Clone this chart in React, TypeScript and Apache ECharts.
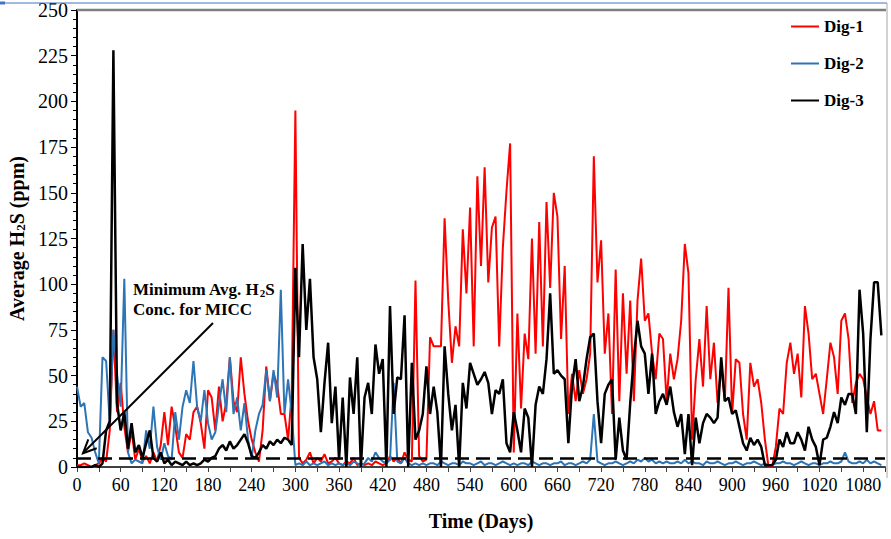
import React, { useEffect, useRef } from 'react';
import * as echarts from 'echarts';

// Sampling step of the series (days)
const STEP = 5;

// Dig-1 (red), one value every 5 days from day 0
const DIG1 = [
  1, 1, 2, 1, 0, 1, 2, 5, 3, 20, 75, 30,
  46, 22, 8, 20, 4, 10, 3, 6, 2, 8, 3, 12,
  30, 12, 33, 22, 8, 5, 18, 15, 30, 33, 24, 10,
  42, 38, 20, 44, 25, 35, 60, 36, 30, 60, 40, 25,
  15, 8, 3, 20, 55, 36, 51, 45, 29, 29, 15, 40,
  195, 5, 2, 4, 8, 2, 5, 3, 7, 2, 3, 5,
  2, 1, 3, 2, 5, 1, 2, 1, 2, 1, 3, 2,
  1, 2, 6, 3, 5, 2, 8, 4, 3, 102, 6, 3,
  4, 71, 66, 66, 66, 136, 91, 57, 77, 66, 130, 95,
  142, 66, 159, 110, 164, 101, 131, 137, 66, 120, 151, 177,
  8, 84, 32, 73, 59, 125, 62, 134, 66, 145, 98, 150,
  137, 70, 110, 29, 51, 36, 53, 40, 48, 62, 170, 101,
  124, 62, 84, 29, 108, 36, 95, 51, 91, 36, 91, 114,
  80, 84, 62, 48, 73, 70, 36, 62, 48, 59, 80, 122,
  106, 15, 48, 70, 44, 88, 48, 68, 35, 55, 36, 98,
  29, 59, 57, 29, 15, 57, 44, 48, 35, 15, 0, 0,
  11, 32, 29, 57, 68, 51, 62, 38, 88, 73, 48, 51,
  40, 29, 48, 68, 60, 40, 80, 84, 70, 35, 46, 51,
  48, 38, 29, 36, 20, 20,
];

// Dig-2 (blue)
const DIG2 = [
  44, 33, 35, 19, 16, 8, 2, 60, 58, 24, 75, 51,
  33, 103, 8, 2, 4, 3, 2, 20, 10, 33, 11, 4,
  13, 6, 4, 30, 15, 33, 42, 35, 58, 33, 25, 42,
  24, 15, 19, 34, 48, 30, 60, 29, 38, 20, 35, 15,
  5, 20, 29, 34, 53, 36, 53, 38, 97, 29, 48, 29,
  1, 2, 1, 3, 1, 2, 1, 2, 3, 1, 2, 1,
  2, 1, 2, 1, 3, 2, 1, 2, 5, 3, 8, 5,
  3, 2, 4, 46, 3, 2, 5, 2, 1, 2, 1, 2,
  1, 2, 2, 1, 3, 2, 1, 2, 2, 1, 3, 2,
  2, 1, 2, 3, 1, 2, 2, 1, 2, 3, 2, 1,
  2, 1, 2, 2, 1, 3, 2, 1, 2, 2, 1, 2,
  2, 3, 1, 2, 2, 1, 2, 3, 2, 4, 29, 3,
  2, 1, 2, 2, 3, 2, 1, 2, 3, 2, 4, 3,
  5, 3, 4, 2, 3, 2, 3, 2, 2, 3, 2, 4,
  2, 3, 2, 2, 1, 3, 2, 2, 3, 2, 1, 2,
  2, 3, 2, 1, 2, 2, 3, 2, 1, 2, 1, 1,
  2, 2, 3, 2, 2, 1, 2, 3, 2, 1, 2, 2,
  1, 2, 2, 3, 2, 2, 3, 8, 3, 2, 2, 3,
  2, 4, 2, 3, 2, 1,
];

// Dig-3 (black)
const DIG3 = [
  0, 0, 0, 0, 0, 1, 0, 2, 20, 25, 228, 35,
  20, 30, 10, 24, 8, 12, 5, 13, 20, 5, 3, 8,
  2, 4, 1, 3, 2, 1, 3, 1, 2, 1, 2, 4,
  3, 5, 6, 10, 12, 9, 14, 10, 12, 15, 18, 13,
  6, 5, 8, 12, 10, 14, 12, 15, 13, 16, 15, 12,
  109, 60, 122, 75, 103, 60, 48, 19, 46, 68, 24, 44,
  4, 38, 0, 49, 29, 60, 0, 38, 46, 29, 67, 51,
  59, 0, 88, 29, 49, 48, 83, 0, 57, 15, 20, 29,
  55, 29, 44, 30, 0, 66, 40, 20, 34, 0, 46, 32,
  57, 51, 45, 48, 52, 46, 29, 42, 40, 48, 13, 8,
  30, 20, 8, 32, 27, 0, 34, 44, 40, 59, 95, 51,
  53, 50, 48, 13, 44, 59, 36, 44, 59, 71, 73, 36,
  13, 40, 45, 48, 4, 27, 9, 4, 35, 60, 80, 66,
  62, 40, 62, 29, 36, 40, 34, 44, 30, 22, 29, 7,
  29, 1, 27, 13, 24, 29, 27, 24, 27, 60, 36, 38,
  29, 31, 22, 13, 9, 16, 12, 15, 11, 1, 1, 1,
  4, 15, 11, 19, 13, 13, 19, 15, 9, 22, 15, 11,
  1, 15, 16, 22, 30, 24, 38, 34, 40, 40, 29, 97,
  73, 19, 70, 101, 101, 72,
];

const SERIES_NAMES = ['Dig-1', 'Dig-2', 'Dig-3'];
const MICC_LEVEL = 5; // minimum avg. H2S concentration for MICC (ppm)
const X_MAX = 1110;
const Y_MAX = 250;

const FONT = '"Liberation Serif", "Times New Roman", serif';

export default function App() {
  const ref = useRef<HTMLDivElement>(null);

  useEffect(() => {
    if (!ref.current) return;
    const chart = echarts.init(ref.current, null, { renderer: 'svg' });
    const toPairs = (vals: number[]) => vals.map((v, i) => [i * STEP, v]);

    chart.setOption({
      animation: false,
      backgroundColor: '#ffffff',
      grid: { left: 77, right: 6, top: 10, bottom: 72, containLabel: false, outerBoundsMode: 'none' },
      legend: {
        orient: 'vertical',
        left: 786,
        top: 13,
        itemWidth: 28,
        itemHeight: 2,
        itemGap: 20,
        icon: 'rect',
        data: SERIES_NAMES,
        textStyle: {
          fontFamily: FONT,
          fontWeight: 'bold',
          fontSize: 17,
          color: '#000',
          lineHeight: 15,
        },
      },
      xAxis: {
        type: 'value',
        min: 0,
        max: X_MAX,
        interval: 30,
        name: 'Time (Days)',
        nameLocation: 'middle',
        nameGap: 44,
        nameTextStyle: { fontFamily: FONT, fontWeight: 'bold', fontSize: 20, color: '#000' },
        axisLine: { onZero: false, lineStyle: { color: '#404040', width: 2 } },
        axisTick: { length: 5, lineStyle: { color: '#404040', width: 1 } },
        axisLabel: {
          formatter: (v: number) => (v % 60 === 0 && v <= 1080 ? String(v) : ''),
          fontFamily: FONT,
          fontSize: 18,
          color: '#000',
          margin: 9,
        },
        splitLine: { show: false },
      },
      yAxis: {
        type: 'value',
        min: 0,
        max: Y_MAX,
        interval: 25,
        name: '{b|Average H}{s|2}{b|S (ppm)}',
        nameLocation: 'middle',
        nameRotate: 90,
        nameGap: 40,
        nameTextStyle: {
          rich: {
            b: { fontFamily: FONT, fontWeight: 'bold', fontSize: 20, color: '#000', lineHeight: 22, verticalAlign: 'bottom' },
            s: { fontFamily: FONT, fontWeight: 'bold', fontSize: 13, color: '#000', lineHeight: 16, verticalAlign: 'bottom' },
          },
        },
        axisLine: { show: true, lineStyle: { color: '#000', width: 2 } },
        axisTick: { length: 6, lineStyle: { color: '#000', width: 1 } },
        minorTick: { show: true, splitNumber: 5, length: 4, lineStyle: { color: '#000', width: 1 } },
        axisLabel: { fontFamily: FONT, fontSize: 20, color: '#000', margin: 9 },
        splitLine: { show: false },
      },
      series: [
        {
          name: SERIES_NAMES[0],
          type: 'line',
          data: toPairs(DIG1),
          showSymbol: false,
          symbol: 'none',
          lineStyle: { color: '#FF0000', width: 2 },
          itemStyle: { color: '#FF0000' },
        },
        {
          name: SERIES_NAMES[1],
          type: 'line',
          data: toPairs(DIG2),
          showSymbol: false,
          symbol: 'none',
          lineStyle: { color: '#2E75B6', width: 2 },
          itemStyle: { color: '#2E75B6' },
        },
        {
          name: SERIES_NAMES[2],
          type: 'line',
          data: toPairs(DIG3),
          showSymbol: false,
          symbol: 'none',
          lineStyle: { color: '#000000', width: 2.5 },
          itemStyle: { color: '#000000' },
          markLine: {
            silent: true,
            symbol: ['none', 'none'],
            label: { show: false },
            lineStyle: { color: '#000', type: [14, 7], width: 2.5 },
            data: [{ yAxis: MICC_LEVEL }],
          },
        },
      ],
      graphic: [
        { type: 'line', silent: true, z: 100, shape: { x1: 0, y1: 3, x2: 887, y2: 3 }, style: { stroke: '#4472C4', lineWidth: 1 } },
        { type: 'line', silent: true, z: 100, shape: { x1: 0, y1: 3, x2: 5, y2: 3 }, style: { stroke: '#4472C4', lineWidth: 3 } },
        { type: 'line', silent: true, z: 100, shape: { x1: 77, y1: 10, x2: 886, y2: 10 }, style: { stroke: '#7f7f7f', lineWidth: 2.5 } },
        { type: 'line', silent: true, z: 100, shape: { x1: 887, y1: 3, x2: 887, y2: 478 }, style: { stroke: '#a6a6a6', lineWidth: 1 } },
        {
          type: 'text',
          z: 100,
          x: 133,
          y: 278,
          style: {
            text: '{n|Minimum Avg. H}{s|2}{n|S}\n{n|Conc. for MICC}',
            fill: '#000',
            rich: {
              n: { fontFamily: FONT, fontWeight: 'bold', fontSize: 17, fill: '#000', lineHeight: 20, verticalAlign: 'bottom' },
              s: { fontFamily: FONT, fontWeight: 'bold', fontSize: 11, fill: '#000', lineHeight: 14, verticalAlign: 'bottom' },
            },
          },
        },
        { type: 'line', silent: true, z: 100, shape: { x1: 213, y1: 323, x2: 83, y2: 453 }, style: { stroke: '#000', lineWidth: 2 } },
        {
          type: 'polyline',
          silent: true,
          z: 100,
          shape: { points: [[96.7, 448.3], [83, 453.3], [88.3, 439.3]] },
          style: { stroke: '#000', lineWidth: 2, fill: 'none' },
        },
      ],
    });

    return () => chart.dispose();
  }, []);

  return <div ref={ref} style={{ width: 891, height: 539, position: 'absolute', left: 0, top: 0 }} />;
}
